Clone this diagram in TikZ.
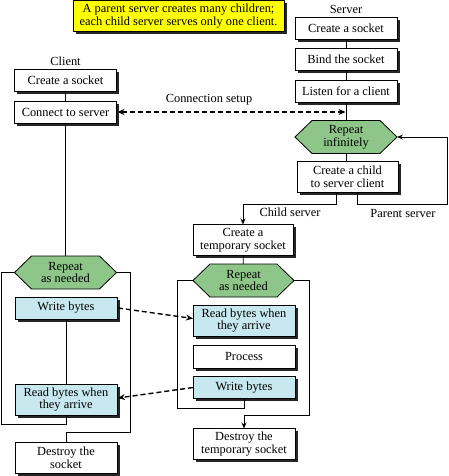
\documentclass[tikz,border=0pt]{standalone}
\usepackage{fontspec}
\setmainfont{Liberation Serif}
\usetikzlibrary{arrows.meta,shadows,backgrounds}
\definecolor{notey}{RGB}{255,255,0}
\definecolor{hexg}{RGB}{141,198,136}
\definecolor{boxb}{RGB}{200,232,240}
\begin{document}
\begin{tikzpicture}[x=1pt,y=-1pt,
  font=\fontsize{12.4}{12.9}\selectfont,
  every node/.style={inner sep=0pt, outer sep=0pt},
  sh/.style={drop shadow={shadow xshift=2.6pt, shadow yshift=-2.6pt, fill=black!85, opacity=1}},
  box/.style={draw, line width=0.8pt, fill=white, align=center, minimum width=102pt, minimum height=22pt, sh},
  tallbox/.style={box, minimum height=31pt},
  bluebox/.style={box, fill=boxb},
  tallblue/.style={tallbox, fill=boxb},
  hexnode/.style={align=center, minimum width=102pt, minimum height=33pt},
  hexdraw/.style={draw, line width=0.8pt, fill=hexg},
  note/.style={draw, line width=0.8pt, fill=notey, align=center, minimum width=211pt, minimum height=31pt, sh},
  ln/.style={line width=0.9pt},
  arr/.style={ln, -{Stealth[length=6pt,width=5pt]}},
  dasharr/.style={line width=1.4pt, dash pattern=on 5pt off 3pt, -{Stealth[length=7pt,width=6pt]}},
  lbl/.style={}
]
\useasboundingbox (0,0) rectangle (449,476);

% note
\node[note] (note) at (178.5,16) {A parent server creates many children;\\each child server serves only one client.};

% server main column
\node[lbl] (slabel) at (346,9) {Server};
\node[box] (s1) at (346,28) {Create a socket};
\node[box] (s2) at (346,59.5) {Bind the socket};
\node[box] (s3) at (346,91.5) {Listen for a client};
\node[hexnode] (shx) at (346,137) {Repeat\\infinitely};
\node[tallbox, minimum width=101pt] (s4) at (347.5,177) {Create a child\\to server client};

% client column
\node[lbl] (clabel) at (65.5,61) {Client};
\node[box] (c1) at (65.5,80.5) {Create a socket};
\node[box] (c2) at (65.5,112) {Connect to server};
\node[hexnode] (chx) at (65.5,272.5) {Repeat\\as needed};
\node[bluebox] (cw) at (66,308) {Write bytes};
\node[tallblue] (cr) at (66,399.5) {Read bytes when\\they arrive};
\node[tallbox] (cd) at (66,457.5) {Destroy the\\socket};

% child server column
\node[tallbox, minimum width=100pt] (t1) at (243,240) {Create a\\temporary socket};
\node[hexnode, minimum width=101pt] (thx) at (243.5,280.5) {Repeat\\as needed};
\node[tallblue] (tr) at (244,320.5) {Read bytes when\\they arrive};
\node[box, minimum height=23pt] (tp) at (244,356.5) {Process};
\node[bluebox] (tw) at (244,387.5) {Write bytes};
\node[tallbox] (td) at (244,444) {Destroy the\\temporary socket};

% labels
\node[lbl] (conn) at (209,100) {Connection setup};
\node[lbl] (child) at (290,212) {Child server};
\node[lbl] (parent) at (403,213) {Parent server};

% hexagons on background
\begin{scope}[on background layer]
\foreach \h in {shx,chx,thx}{
  \draw[hexdraw] (\h.west) -- ([xshift=17pt]\h.north west) -- ([xshift=-17pt]\h.north east)
    -- (\h.east) -- ([xshift=-17pt]\h.south east) -- ([xshift=17pt]\h.south west) -- cycle;
}
\end{scope}

% server main connectors
\draw[ln] (s1) -- (s2);
\draw[ln] (s2) -- (s3);
\draw[ln] (s3) -- (shx);
\draw[ln] (shx.south) -- (shx.south |- s4.north);

\coordinate (sp1) at (336,204);
\coordinate (sp2) at (357,204);
\coordinate (sp3) at (447,204);
\draw[arr] (s4.south -| sp1) -- (sp1) -| (t1.north);
\draw[arr] (s4.south -| sp2) -- (sp2) -- (sp3) |- (shx.east);

% client connectors
\draw[ln] (c1) -- (c2);
\draw[ln] (c2) -- (chx);
\draw[ln] (cw) -- (cr);
\coordinate (cL) at (1,424);
\coordinate (cR) at (130,432);
\draw[ln] (chx.west) -| (cL) -| (cr.south);
\draw[ln] (chx.east) -| (cR) -| (cd.north);

% child server connectors
\draw[ln] (t1) -- (thx);
\coordinate (tL) at (177,408);
\coordinate (tR) at (309,415);
\draw[ln] (thx.west) -| (tL) -| (tw.south);
\draw[arr] (thx.east) -| (tR) -| (td.north);

% dashed
\coordinate (srvline) at (345.5,112);
\draw[dasharr, {Stealth[length=7pt,width=6pt]}-{Stealth[length=7pt,width=6pt]}] ([xshift=1pt]c2.east) -- (srvline);
\draw[dasharr] ([xshift=1pt]cw.east) -- ([yshift=2pt]tr.west);
\draw[dasharr] (tw.west) -- ([xshift=1pt, yshift=1.5pt]cr.east);
\end{tikzpicture}
\end{document}
